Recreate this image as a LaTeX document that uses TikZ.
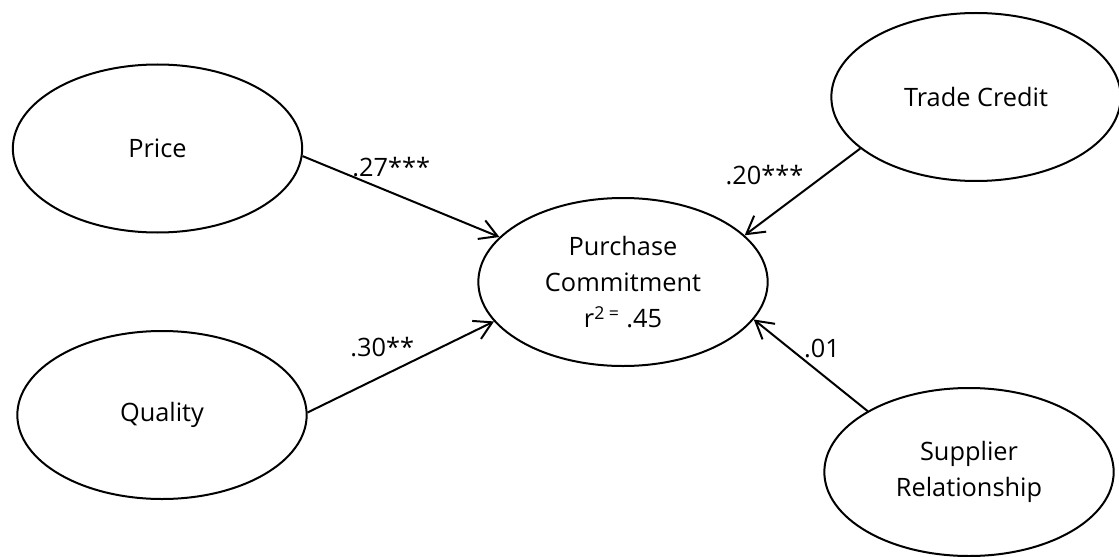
\documentclass[tikz,border=0pt]{standalone}
\usepackage{fontspec}
\setmainfont{Open Sans}
\usetikzlibrary{shapes.geometric,arrows.meta}

\tikzset{
    latent/.style={ellipse, draw, line width=1.5pt, minimum width=217pt, minimum height=126pt,
        align=center, font=\fontsize{19}{27}\selectfont},
    effect/.style={line width=1.5pt, -{Straight Barb[length=13pt,width=15pt]}},
    coef/.style={font=\fontsize{19}{27}\selectfont, inner sep=2pt}
}

\begin{document}
\begin{tikzpicture}[x=.75pt, y=-.75pt]
    \useasboundingbox (0, 0) rectangle (1119, 556);

    \node[latent] (price) at (157.5, 148.5) {Price};
    \node[latent] (quality) at (162, 415) {Quality};
    \node[latent] (pc) at (623, 282) {Purchase\\Commitment\\r\textsuperscript{2 =} .45};
    \node[latent] (tc) at (976, 97) {Trade Credit};
    \node[latent] (sr) at (969, 472) {Supplier\\Relationship};

    \draw[effect] (price.-3) -- (pc.160) node[coef, pos=.45, above=9pt] {.27***};
    \draw[effect] (quality.1) -- (pc.197) node[coef, pos=.40, above=12pt] {.30**};
    \draw[effect] (tc.204) -- (pc.21) node[coef, pos=.30, left=14pt] {.20***};
    \draw[effect] (sr.149) -- (pc.-16) node[coef, pos=.40, above=10pt] {.01};
\end{tikzpicture}
\end{document}
